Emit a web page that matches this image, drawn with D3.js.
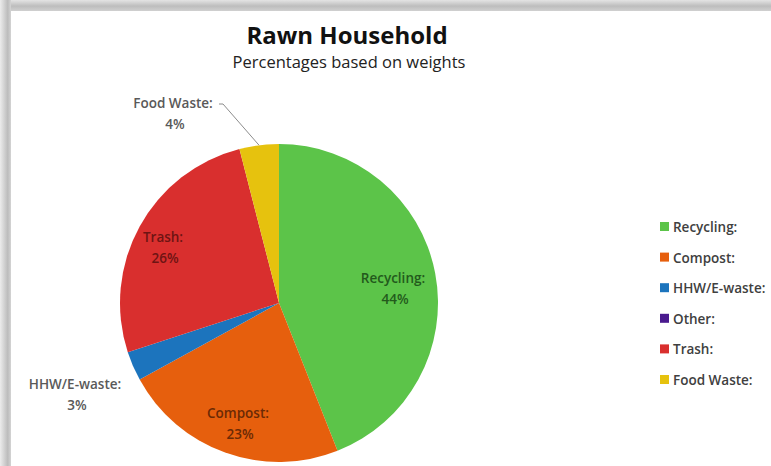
<!DOCTYPE html>
<html>
<head>
<meta charset="utf-8">
<script src="https://cdn.jsdelivr.net/npm/d3@7"></script>
<style>
  body { margin: 0; background: #fff; }
  svg { display: block; font-family: "Open Sans", Lato, sans-serif; }
</style>
</head>
<body>
<svg id="chart"></svg>
<script>
// Daten
const categories = ["Recycling:", "Compost:", "HHW/E-waste:", "Other:", "Trash:", "Food Waste:"];
const values = [44, 23, 3, 0, 26, 4];
const colors = ["#5cc449", "#e65f0d", "#1c74bd", "#4a1a8e", "#d92f2e", "#e6c20e"];
const labelColors = ["#235a1c", "#6b2a05", "#595959", "#595959", "#6e1413", "#595959"];

const width = 771, height = 466;
const cx = 279, cy = 303, radius = 159;

const svg = d3.select("#chart")
    .attr("width", width)
    .attr("height", height);

// Schatten vom Screenshot-Rahmen
const defs = svg.append("defs");
const gTop = defs.append("linearGradient").attr("id", "shTop")
    .attr("x1", 0).attr("y1", 0).attr("x2", 0).attr("y2", 1);
gTop.append("stop").attr("offset", "0%").attr("stop-color", "#e4e4e4");
gTop.append("stop").attr("offset", "55%").attr("stop-color", "#bdbdbd");
gTop.append("stop").attr("offset", "100%").attr("stop-color", "#d0d0d0");
const gLeft = defs.append("linearGradient").attr("id", "shLeft")
    .attr("x1", 0).attr("y1", 0).attr("x2", 1).attr("y2", 0);
gLeft.append("stop").attr("offset", "0%").attr("stop-color", "#ececec");
gLeft.append("stop").attr("offset", "70%").attr("stop-color", "#bcbcbc");
gLeft.append("stop").attr("offset", "100%").attr("stop-color", "#d4d4d4");

svg.append("rect").attr("x", 0).attr("y", 0).attr("width", width).attr("height", 11)
    .attr("fill", "url(#shTop)");
svg.append("rect").attr("x", 0).attr("y", 0).attr("width", 11).attr("height", height)
    .attr("fill", "url(#shLeft)");

// Titel
svg.append("text")
    .attr("x", 347).attr("y", 44)
    .attr("text-anchor", "middle")
    .attr("font-size", 24).attr("font-weight", "bold")
    .attr("fill", "#111")
    .text("Rawn Household");

svg.append("text")
    .attr("x", 349).attr("y", 68)
    .attr("text-anchor", "middle")
    .attr("font-size", 16.5)
    .attr("fill", "#222")
    .text("Percentages based on weights");

// Kuchen
const data = categories.map((c, i) => ({ name: c, value: values[i], color: colors[i], lc: labelColors[i] }));
const pie = d3.pie().sort(null).value(d => d.value);
const arcs = pie(data);
const arc = d3.arc().innerRadius(0).outerRadius(radius);

const g = svg.append("g").attr("transform", `translate(${cx}, ${cy})`);

g.selectAll("path")
    .data(arcs.filter(d => d.data.value > 0))
    .join("path")
        .attr("d", arc)
        .attr("fill", d => d.data.color);

// Beschriftungen: Position relativ zum Mittelpunkt
const labelPos = {
    "Recycling:": [114, -20],
    "Compost:": [-41, 115],
    "Trash:": [-116, -61],
    "HHW/E-waste:": [-204, 86],
    "Food Waste:": [-106, -195]
};

arcs.forEach(a => {
    const p = labelPos[a.data.name];
    if (!p) return;
    const [x, y] = p;
    const t = g.append("text")
        .attr("text-anchor", "middle")
        .attr("font-size", 13.5)
        .attr("font-weight", 600)
        .attr("fill", a.data.lc);
    t.append("tspan").attr("x", x).attr("y", y).text(a.data.name);
    t.append("tspan").attr("x", x + 2).attr("y", y + 21).text(Math.round(a.data.value) + "%");

    if (a.data.name === "Food Waste:") {
        const mid = (a.startAngle + a.endAngle) / 2;
        const edge = [Math.sin(mid) * radius, -Math.cos(mid) * radius];
        g.append("polyline")
            .attr("points", [[x + 46, y - 4], [x + 50, y - 4], edge].map(q => q.join(",")).join(" "))
            .attr("fill", "none")
            .attr("stroke", "#8c8c8c")
            .attr("stroke-width", 1);
    }
});

// Legende
const legend = svg.append("g").attr("transform", "translate(660, 222)");
const row = legend.selectAll("g")
    .data(data)
    .join("g")
        .attr("transform", (d, i) => `translate(0, ${i * 30.6})`);
row.append("rect")
    .attr("width", 9).attr("height", 9)
    .attr("fill", d => d.color);
row.append("text")
    .attr("x", 13).attr("y", 10)
    .attr("font-size", 13.5)
    .attr("font-weight", 600)
    .attr("fill", "#404040")
    .text(d => d.name);
</script>
</body>
</html>
